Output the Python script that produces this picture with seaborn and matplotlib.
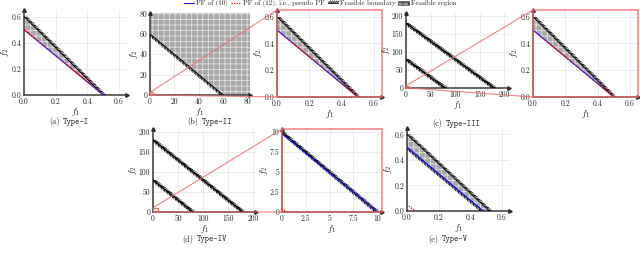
import numpy as np
import matplotlib
matplotlib.use('Agg')
import matplotlib.pyplot as plt
import matplotlib.patheffects as pe
from matplotlib.lines import Line2D
from matplotlib.patches import Patch, Rectangle, ConnectionPatch
import seaborn as sns

# ---- values ----
# (a) Type-I
a_bnd_f1 = [0.0, 0.5]
a_bnd_f2 = [0.6, 0.0]
a_pf_f1 = [0.0, 0.5]
a_pf_f2 = [0.5, 0.0]
a_reg_f1 = [0.0, 0.0, 0.5]
a_reg_f2 = [0.5, 0.6, 0.0]

# (b) Type-II
b_bnd_f1 = [0, 60]
b_bnd_f2 = [60, 0]
b_reg_f1 = [0, 0, 82, 82, 60]
b_reg_f2 = [60, 80.5, 80.5, 0, 0]
b_box = 2.5
# zoom of (b) near the origin
bz_bnd_f1 = [0.0, 0.5]
bz_bnd_f2 = [0.6, 0.0]
bz_pf_f1 = [0.0, 0.5]
bz_pf_f2 = [0.5, 0.0]
bz_reg_f1 = [0.0, 0.0, 0.5]
bz_reg_f2 = [0.5, 0.6, 0.0]

# (c) Type-III
c_bnd1_f1 = [0, 180]
c_bnd1_f2 = [180, 0]
c_bnd2_f1 = [0, 80]
c_bnd2_f2 = [80, 0]
c_box = 6
# zoom of (c)
cz_bnd_f1 = [0.0, 0.5]
cz_bnd_f2 = [0.6, 0.0]
cz_pf_f1 = [0.0, 0.5]
cz_pf_f2 = [0.5, 0.0]
cz_reg_f1 = [0.0, 0.0, 0.5]
cz_reg_f2 = [0.5, 0.6, 0.0]

# (d) Type-IV
d_bnd1_f1 = [0, 180]
d_bnd1_f2 = [180, 0]
d_bnd2_f1 = [0, 80]
d_bnd2_f2 = [80, 0]
d_box = 10.5
# zoom of (d)
dz_bnd_f1 = [0, 10]
dz_bnd_f2 = [10, 0]
dz_pf_f1 = [0, 10]
dz_pf_f2 = [9.8, 0]
dz_pseudo_f1 = [0, 0.45]
dz_pseudo_f2 = [0.45, 0]

# (e) Type-V
e_bnd_f1 = [0.0, 0.52]
e_bnd_f2 = [0.6, 0.0]
e_pf_f1 = [0.0, 0.48]
e_pf_f2 = [0.5, 0.0]
e_pseudo_f1 = [0.0, 0.05]
e_pseudo_f2 = [0.05, 0.0]
e_reg_f1 = [0.0, 0.0, 0.52, 0.48]
e_reg_f2 = [0.5, 0.6, 0.0, 0.0]

small_ticks = [0, 0.2, 0.4, 0.6]
b_ticks = [0, 20, 40, 60, 80]
cd_ticks = [0, 50, 100, 150, 200]
dz_ticks = [0, 2.5, 5, 7.5, 10]
dz_ticklabels = ['0', '2.5', '5', '7.5', '10']

sns.set_theme(style='whitegrid')
plt.rcParams['font.family'] = ['cmr10', 'DejaVu Serif']
plt.rcParams['mathtext.fontset'] = 'cm'
plt.rcParams['axes.unicode_minus'] = False
plt.rcParams['hatch.linewidth'] = 0.6

W, H = 640, 256
fig = plt.figure(figsize=(6.4, 2.56), dpi=100)
fig.patch.set_facecolor('white')

RED = '#f26b6b'
GRAY = '#a8a8a8'
HATCH_C = '#e2e2e2'


def add_ax(x0, x1, ytop, ybot):
    return fig.add_axes([x0 / W, 1 - ybot / H, (x1 - x0) / W, (ybot - ytop) / H])


def style(ax, lim_x, lim_y, ticks_x, ticks_y, labels=None, inset=False):
    ax.set_facecolor('white')
    ax.set_xlim(lim_x)
    ax.set_ylim(lim_y)
    ax.set_xticks(ticks_x)
    ax.set_yticks(ticks_y)
    if labels is not None:
        ax.set_xticklabels(labels)
        ax.set_yticklabels(labels)
    ax.tick_params(length=0, labelsize=5.5, pad=2)
    ax.grid(True, color='#e4e4e4', lw=0.5)
    ax.set_axisbelow(True)
    ax.spines['top'].set_visible(False)
    ax.spines['right'].set_visible(False)
    for s in ['left', 'bottom']:
        ax.spines[s].set_color('#3a3a3a')
        ax.spines[s].set_linewidth(1.1)
    ax.plot(1, 0, '>', color='#222222', ms=2.5, transform=ax.get_yaxis_transform(), clip_on=False)
    ax.plot(0, 1, '^', color='#222222', ms=2.5, transform=ax.get_xaxis_transform(), clip_on=False)
    ax.set_xlabel('$f_1$', fontsize=6.5, labelpad=0)
    ax.set_ylabel('$f_2$', fontsize=6.5, labelpad=0)
    if inset:
        ax.add_patch(Rectangle((0, 0), 1, 1, transform=ax.transAxes, fill=False,
                               ec=RED, lw=1.2, alpha=0.8, clip_on=False, zorder=5))


def ticked(side):
    sp, ln = 1.4, 1.5
    if side == 'both':
        return [pe.withTickedStroke(angle=45, spacing=sp, length=ln * 0.85),
                pe.withTickedStroke(angle=-45, spacing=sp, length=ln * 0.85)]
    return [pe.withTickedStroke(angle=45 if side == 'out' else -45, spacing=sp, length=ln)]


def region(ax, f1, f2):
    ax.fill(f1, f2, facecolor=GRAY, edgecolor=HATCH_C, hatch='+++', lw=0, zorder=1)


def boundary(ax, f1, f2, side):
    sns.lineplot(x=f1, y=f2, ax=ax, color='black', lw=0.6, sort=False, estimator=None,
                 path_effects=ticked(side), zorder=3)


def pf(ax, f1, f2):
    sns.lineplot(x=f1, y=f2, ax=ax, color='#1a1aff', lw=0.8, sort=False, estimator=None, zorder=4)


def pseudo(ax, f1, f2):
    sns.lineplot(x=f1, y=f2, ax=ax, color='red', lw=0.9, ls=(0, (1, 1)), sort=False,
                 estimator=None, zorder=4)


def link(parent, box, child, low_corner):
    parent.add_patch(Rectangle((0, 0), box, box, fill=False, ec=RED, lw=0.9, zorder=6, clip_on=False))
    for xyA, xyB in [((0, box), (0, 1)), (low_corner, (0, 0))]:
        con = ConnectionPatch(xyA=xyA, coordsA=parent.transData, xyB=xyB, coordsB=child.transAxes,
                              color=RED, lw=0.8, alpha=0.85)
        fig.add_artist(con)


# (a)
ax_a = add_ax(24, 127, 10, 95)
region(ax_a, a_reg_f1, a_reg_f2)
boundary(ax_a, a_bnd_f1, a_bnd_f2, 'out')
pf(ax_a, a_pf_f1, a_pf_f2)
pseudo(ax_a, a_pf_f1, a_pf_f2)
style(ax_a, (0, 0.65), (0, 0.65), small_ticks, small_ticks)

# (b)
ax_b = add_ax(150, 250, 13, 95)
region(ax_b, b_reg_f1, b_reg_f2)
boundary(ax_b, b_bnd_f1, b_bnd_f2, 'in')
style(ax_b, (0, 82), (0, 80.5), b_ticks, b_ticks)

ax_bz = add_ax(277, 382, 10, 97)
region(ax_bz, bz_reg_f1, bz_reg_f2)
boundary(ax_bz, bz_bnd_f1, bz_bnd_f2, 'out')
pf(ax_bz, bz_pf_f1, bz_pf_f2)
pseudo(ax_bz, bz_pf_f1, bz_pf_f2)
style(ax_bz, (0, 0.65), (0, 0.65), small_ticks, small_ticks, inset=True)
link(ax_b, b_box, ax_bz, (0, 0))

# (c)
ax_c = add_ax(406, 509, 13, 88)
boundary(ax_c, c_bnd1_f1, c_bnd1_f2, 'both')
boundary(ax_c, c_bnd2_f1, c_bnd2_f2, 'both')
style(ax_c, (0, 210), (0, 208), cd_ticks, cd_ticks)

ax_cz = add_ax(533, 638, 10, 97)
region(ax_cz, cz_reg_f1, cz_reg_f2)
boundary(ax_cz, cz_bnd_f1, cz_bnd_f2, 'out')
pf(ax_cz, cz_pf_f1, cz_pf_f2)
pseudo(ax_cz, cz_pf_f1, cz_pf_f2)
style(ax_cz, (0, 0.65), (0, 0.65), small_ticks, small_ticks, inset=True)
link(ax_c, c_box, ax_cz, (c_box, 0))

# (d)
ax_d = add_ax(153, 256, 129, 212)
boundary(ax_d, d_bnd1_f1, d_bnd1_f2, 'both')
boundary(ax_d, d_bnd2_f1, d_bnd2_f2, 'both')
style(ax_d, (0, 206), (0, 207), cd_ticks, cd_ticks)

ax_dz = add_ax(282, 382, 129, 212)
pf(ax_dz, dz_pf_f1, dz_pf_f2)
boundary(ax_dz, dz_bnd_f1, dz_bnd_f2, 'both')
pseudo(ax_dz, dz_pseudo_f1, dz_pseudo_f2)
style(ax_dz, (0, 10.5), (0, 10.4), dz_ticks, dz_ticks, labels=dz_ticklabels, inset=True)
link(ax_d, d_box, ax_dz, (d_box, 0))

# (e)
ax_e = add_ax(407, 510, 128, 211)
region(ax_e, e_reg_f1, e_reg_f2)
boundary(ax_e, e_bnd_f1, e_bnd_f2, 'out')
boundary(ax_e, e_pf_f1, e_pf_f2, 'in')
pf(ax_e, e_pf_f1, e_pf_f2)
pseudo(ax_e, e_pseudo_f1, e_pseudo_f2)
style(ax_e, (0, 0.65), (0, 0.65), small_ticks, small_ticks)

# captions
captions = [('(a)', 'Type-I', 61, 122), ('(b)', 'Type-II', 200, 122),
            ('(c)', 'Type-III', 444, 124), ('(d)', 'Type-IV', 195, 239),
            ('(e)', 'Type-V', 440, 239)]
for tag, name, xs, yc in captions:
    fig.text((xs - 1.5) / W, 1 - yc / H, tag, ha='right', va='center', fontsize=6)
    fig.text((xs + 1.5) / W, 1 - yc / H, name, ha='left', va='center', fontsize=6, family='cmtt10')

# legend
handles = [
    Line2D([], [], color='#1a1aff', lw=0.8, label='PF of (10)'),
    Line2D([], [], color='red', lw=0.9, ls=(0, (1, 1)), label='PF of (12), i.e., pseudo PF'),
    Line2D([], [], color='black', lw=0.6, path_effects=ticked('out'), label='Feasible boundary'),
    Patch(facecolor=GRAY, edgecolor='#444444', hatch='+++', lw=0.5, label='Feasible region'),
]
fig.legend(handles=handles, loc='upper center', bbox_to_anchor=(0.5, 1.0), ncol=4,
           frameon=False, fontsize=5, handlelength=1.5, handletextpad=0.3,
           columnspacing=0.4, borderaxespad=0, borderpad=0.05, handleheight=0.6)

fig.savefig('out.png', dpi=100, facecolor='white')
